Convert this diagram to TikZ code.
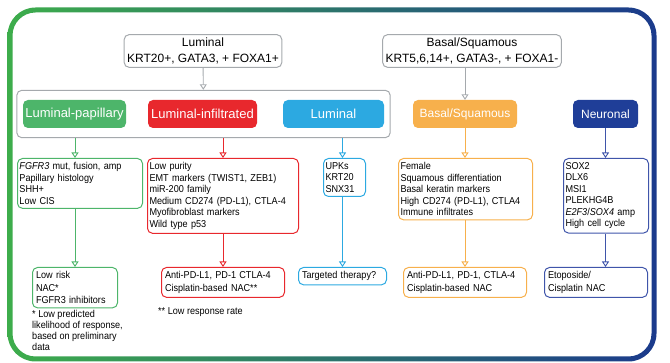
\documentclass[tikz,border=0pt]{standalone}
\usepackage{fontspec}
\setmainfont{Liberation Sans}
\newfontfamily\narrowsans[FakeStretch=0.91]{Liberation Sans}
\usetikzlibrary{arrows.meta}
\usetikzlibrary{fit}
\definecolor{framegreen}{HTML}{3DAD4B}
\definecolor{frameteal}{HTML}{20776F}
\definecolor{frameblue}{HTML}{1B3A8C}
\definecolor{boxgray}{HTML}{A5A9AD}
\definecolor{lpgreen}{HTML}{4DB56A}
\definecolor{lired}{HTML}{E8282D}
\definecolor{lublue}{HTML}{2CA9E1}
\definecolor{baorange}{HTML}{F7B04C}
\definecolor{neblue}{HTML}{1F3E98}
\definecolor{neline}{HTML}{3F55AA}

\begin{document}
\begin{tikzpicture}[x=1pt,y=-1pt,
  header/.style={draw=boxgray,fill=white,line width=1pt,rounded corners=5pt,align=center,
    inner xsep=3pt,inner ysep=3pt,font=\fontsize{12}{16.5}\selectfont},
  subtype/.style={rounded corners=5pt,text=white,minimum height=28pt,inner sep=0pt,
    font=\fontsize{13}{15}\selectfont},
  detail/.style={draw=#1,line width=1pt,rounded corners=5pt,anchor=north west,align=left,
    inner xsep=2pt,inner ysep=4pt,font=\narrowsans\fontsize{10}{11.5}\selectfont},
  therapy/.style={draw=#1,line width=1pt,rounded corners=5pt,anchor=north west,align=left,
    inner xsep=3.5pt,inner ysep=4pt,font=\narrowsans\fontsize{10}{12.5}\selectfont},
  note/.style={anchor=north west,align=left,inner sep=1pt,font=\narrowsans\fontsize{10}{11}\selectfont},
  tip/.style={draw=#1,line width=0.9pt,-{Triangle[open,width=7pt,length=5.5pt]}}]

  \useasboundingbox (0,0) rectangle (670,363);
  \shade[left color=framegreen,middle color=frameteal,right color=frameblue,even odd rule]
    [rounded corners=28pt] (7.5,7.5) rectangle (656.5,361.5)
    [rounded corners=23pt] (12.5,12.5) rectangle (651.5,356.5);

  \node[header] (lumhead) at (203,51) {Luminal\\KRT20+, GATA3, + FOXA1+};
  \node[header] (bashead) at (472,51) {Basal/Squamous\\KRT5,6,14+, GATA3-, + FOXA1-};

  \node[subtype,fill=lpgreen,minimum width=103pt] (lp) at (74.5,114) {Luminal-papillary};
  \node[subtype,fill=lired,minimum width=109pt] (li) at (202.5,114) {Luminal-infiltrated};
  \node[subtype,fill=lublue,minimum width=101pt] (lu) at (333.5,114) {Luminal};
  \node[subtype,fill=baorange,minimum width=104pt,font=\fontsize{12}{14}\selectfont] (ba) at (465,114) {Basal/Squamous};
  \node[subtype,fill=neblue,minimum width=65pt,font=\fontsize{12}{14}\selectfont] (ne) at (605.5,114) {Neuronal};
  \node[draw=boxgray,line width=1pt,rounded corners=5pt,inner xsep=6pt,inner ysep=9.5pt,fit=(lp)(lu)] (lumgroup) {};

  \node[detail=lpgreen,text width=121pt] (lpd) at (17,158)
    {\textit{FGFR3} mut, fusion, amp\\Papillary histology\\SHH+\\Low CIS};
  \node[detail=lired,text width=147pt] (lid) at (147,158)
    {Low purity\\EMT markers (TWIST1, ZEB1)\\miR-200 family\\Medium CD274 (PD-L1), CTLA-4\\Myofibroblast markers\\Wild type p53};
  \node[detail=lublue,text width=38pt] (lud) at (323,158) {UPKs\\KRT20\\SNX31};
  \node[detail=baorange,text width=130pt] (bad) at (398,158)
    {Female\\Squamous differentiation\\Basal keratin markers\\High CD274 (PD-L1), CTLA4\\Immune infiltrates};
  \node[detail=neline,text width=81pt] (ned) at (563,158)
    {SOX2\\DLX6\\MSI1\\PLEKHG4B\\\textit{E2F3}/\textit{SOX4} amp\\High cell cycle};

  \node[therapy=lpgreen,text width=78pt] (lpt) at (32,267) {Low risk\\NAC*\\FGFR3 inhibitors};
  \node[therapy=lired,text width=116pt] (lit) at (161,267) {Anti-PD-L1, PD-1 CTLA-4\\Cisplatin-based NAC**};
  \node[therapy=lublue,text width=81pt] (lut) at (298,267) {Targeted therapy?};
  \node[therapy=baorange,text width=116pt] (bat) at (403,267) {Anti-PD-L1, PD-1, CTLA-4\\Cisplatin-based NAC};
  \node[therapy=neline,text width=96pt] (net) at (544,267) {Etoposide/\\Cisplatin NAC};

  \node[note] (lpnote) at (31,309) {* Low predicted\\likelihood of response,\\based on preliminary\\data};
  \node[note] (linote) at (157,306) {** Low response rate};

  \draw[tip=boxgray] (lumhead) -- (lumgroup);
  \draw[tip=boxgray] (ba.north |- bashead.south) -- (ba.north);

  \draw[tip=lpgreen] (lpt.north |- lumgroup.south) -- (lpt.north |- lpd.north);
  \draw[tip=lpgreen] (lpt.north |- lpd.south) -- (lpt.north);
  \draw[tip=lired] (lit.north |- lumgroup.south) -- (lit.north |- lid.north);
  \draw[tip=lired] (lit.north |- lid.south) -- (lit.north);
  \draw[tip=lublue] (lut.north |- lumgroup.south) -- (lut.north |- lud.north);
  \draw[tip=lublue] (lut.north |- lud.south) -- (lut.north);
  \draw[tip=baorange] (bat.north |- ba.south) -- (bat.north |- bad.north);
  \draw[tip=baorange] (bat.north |- bad.south) -- (bat.north);
  \draw[tip=neline] (ne.south) -- (ned.north -| ne.south);
  \draw[tip=neline] (ned.south -| ne.south) -- (net.north -| ne.south);
\end{tikzpicture}
\end{document}
